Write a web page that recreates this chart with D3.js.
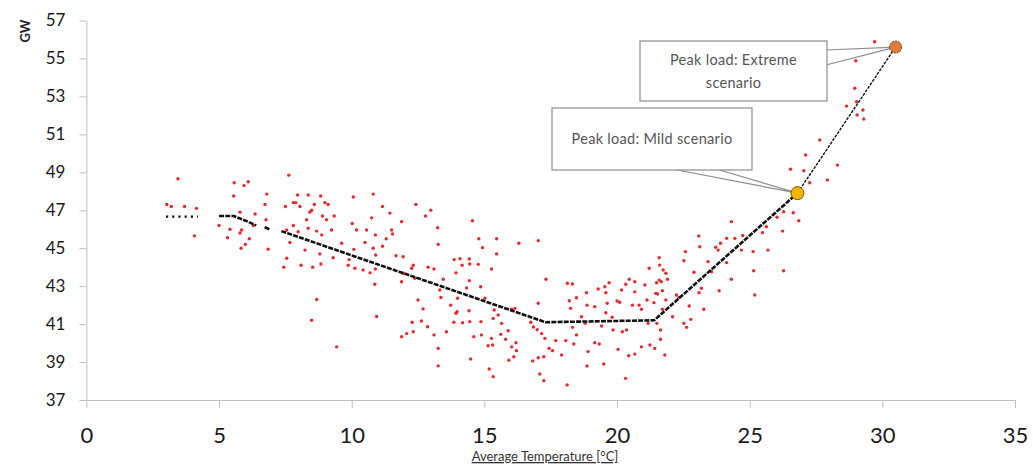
<!DOCTYPE html>
<html>
<head>
<meta charset="utf-8">
<script src="https://cdn.jsdelivr.net/npm/d3@7"></script>
<style>
  body { margin: 0; background: #fff; }
  svg { display: block; }
</style>
</head>
<body>
<div id="chart"></div>
<script>
// x tick values and y tick values
var xTicks = [0, 5, 10, 15, 20, 25, 30, 35];
var yTicks = [37, 39, 41, 43, 45, 47, 49, 51, 53, 55, 57];

// observed daily load vs average temperature [temperature, GW]
var loadPoints = [
  [3.45,48.66],[3.03,47.3],[3.2,47.2],[3.7,47.2],[4.15,47.1],[4.07,45.65],
  [5.57,48.45],[5.94,48.3],[6.1,48.5],[5.55,47.75],[6.8,47.85],[6.73,47.3],
  [5.79,46.9],[6.36,46.8],[5.0,46.2],[5.41,46.0],[5.85,45.96],[5.79,45.8],
  [6.29,46.2],[6.77,46.5],[5.32,45.55],[6.14,45.5],[5.99,45.2],[5.83,45.0],[6.85,44.95],
  [7.63,48.85],[7.96,47.8],[8.36,47.8],[8.83,47.75],[7.5,47.2],[7.8,47.4],[7.89,47.4],
  [8.05,47.2],[8.49,47.0],[8.59,47.3],[8.99,47.4],[9.11,47.3],[8.42,46.9],[8.3,46.5],
  [8.9,46.7],[9.05,46.5],[9.34,46.7],[7.8,46.2],[7.55,45.96],[7.98,45.87],[8.36,46.05],
  [8.68,45.9],[8.87,45.7],[9.24,45.96],[7.67,45.3],[8.24,44.9],[8.8,44.7],[9.3,44.5],
  [7.55,44.47],[7.44,44.0],[8.09,44.1],[8.53,44.0],[8.84,44.17],[8.68,42.3],
  [8.49,41.2],[9.43,39.8],
  [10.06,47.7],[10.81,47.85],[11.16,47.2],[12.42,47.3],[12.78,46.7],[12.98,47.0],[11.44,46.85],
  [11.88,46.4],[10.75,46.6],[10.02,46.3],[10.18,45.96],[10.56,45.96],[11.5,45.96],[11.54,45.75],
  [10.89,45.7],[10.5,45.3],[11.3,45.5],[10.81,45.0],[11.16,45.1],[13.24,46.08],[13.26,45.2],
  [11.67,44.6],[11.94,44.55],[9.9,44.4],[9.87,44.1],[10.12,43.94],[10.43,43.85],[10.69,43.7],
  [10.89,43.9],[12.32,44.1],[12.26,43.94],[12.88,44.0],[13.1,43.9],[11.88,43.23],[10.87,43.1],
  [12.5,42.27],[13.45,43.36],[13.32,42.8],[9.62,45.26],[10.08,44.94],[10.9,44.64],[12.38,43.41],
  [11.94,43.68],
  [14.55,46.45],[14.79,45.5],[15.46,45.5],[14.93,45.03],[15.46,44.7],[16.3,45.26],[17.03,45.4],
  [15.27,43.9],[13.86,44.4],[14.08,44.45],[14.43,44.43],[14.16,44.1],[14.45,44.17],[14.77,44.15],
  [13.93,43.7],[14.43,43.29],[14.86,42.97],[14.33,42.9],
  [10.94,41.4],[12.69,41.8],[12.28,41.1],[12.63,41.16],[12.86,40.86],[11.88,40.33],[12.07,40.5],
  [12.32,40.6],[13.1,40.43],[13.26,39.72],[13.57,40.6],
  [13.36,42.4],[13.99,42.36],[15.02,42.36],[13.73,42.0],[13.97,41.65],[13.93,41.57],[14.42,41.7],
  [15.37,41.74],[15.52,41.48],[16.03,41.78],[16.15,41.83],[15.33,41.3],[15.65,41.04],[13.85,41.1],
  [14.18,41.07],[14.45,41.13],[14.87,41.13],[15.9,40.65],[14.6,40.33],[14.89,40.43],[15.27,40.25],
  [15.62,40.46],[15.8,40.2],[15.14,39.86],[15.31,39.9],[16.19,40.02],[16.03,39.8],[16.21,39.6],
  [14.48,39.16],[15.92,39.1],[16.11,39.28],[16.82,39.06],[17.03,39.23],[13.26,38.8],[15.18,38.63],
  [15.33,38.23],[16.75,41.1],[16.85,40.85],[16.99,40.7],[17.03,42.1],
  [17.32,43.36],[17.16,40.5],[17.28,40.25],[17.69,40.13],[18.07,40.13],[17.57,39.6],[17.44,39.72],
  [17.91,39.37],[17.24,39.28],[17.09,38.37],[17.24,38.02],[18.12,37.79],[18.37,39.95],[18.91,39.55],
  [18.87,38.79],[19.16,40.02],[19.33,39.95],[19.5,38.9],[20.04,39.67],[20.32,38.14],[20.44,39.33],
  [20.67,39.42],[20.92,39.8],[21.24,39.9],[21.42,39.72],[21.8,39.37],[21.64,40.2],[21.64,40.69],
  [21.17,41.04],[21.5,41.04],[22.09,41.39],[22.52,41.04],[22.62,40.83],[22.78,41.25],[22.72,41.95],
  [23.27,41.78],[23.09,42.65],[23.18,42.89],[22.9,43.73],[22.52,44.34],[22.58,44.82],[23.08,45.64],
  [23.12,45.08],[23.43,44.29],[23.72,45.05],[23.85,42.76],[22.24,42.53],[22.34,42.41],
  [18.13,43.15],[18.32,43.11],[18.2,42.23],[18.25,41.83],[18.47,42.39],[18.66,41.39],[18.85,42.65],
  [18.87,42.0],[19.16,41.92],[19.29,42.85],[19.54,42.97],[19.58,42.65],[19.7,43.18],[19.63,42.1],
  [19.58,41.6],[20.0,42.22],[20.1,42.15],[20.17,42.8],[20.33,43.1],[20.46,43.36],[20.67,43.23],
  [20.67,42.7],[20.83,42.0],[20.58,42.0],[20.92,41.78],[21.05,43.06],[21.21,43.94],[21.13,42.27],
  [21.39,42.13],[21.46,42.62],[21.53,42.59],[21.49,43.18],[21.59,43.32],[21.67,43.23],[21.71,42.76],
  [21.59,44.5],[21.61,44.11],[21.74,43.85],[21.84,43.68],[21.9,43.36],[21.84,42.27],[21.71,41.78],
  [18.8,41.05],[18.32,40.83],[18.47,40.43],[19.42,40.9],[19.85,40.69],[20.2,40.6],[20.36,40.69],
  [19.82,41.36],[24.74,45.67],[23.56,43.76],
  [27.64,50.7],[27.11,49.91],[26.54,49.16],[27.04,49.08],[28.31,49.38],[27.93,48.6],[27.26,48.45],
  [26.28,46.92],[26.64,46.87],[26.03,46.63],[26.85,46.45],[26.24,45.9],[25.69,44.9],[24.31,46.4],
  [24.44,45.52],[24.13,45.52],[23.9,45.26],[23.81,44.9],[24.69,44.9],[25.13,44.82],[25.48,45.82],
  [25.63,46.13],[24.13,44.24],[24.31,43.36],[25.15,43.81],[26.28,43.81],[25.19,42.53],
  [29.71,55.88],[29.0,54.88],[28.96,53.43],[28.65,52.49],[29.27,52.28],[29.05,52.02],[29.3,51.81],
  [29.03,52.72]
];

// fitted load curve, drawn as separate pieces like the original
var fitPieces = [
  [[3.0,46.66],[4.2,46.66]],
  [[5.0,46.7],[5.55,46.7],[6.0,46.45],[6.4,46.2]],
  [[6.72,46.1],[6.9,46.0]],
  [[7.35,45.9],[17.3,41.1],[21.4,41.2],[26.8,47.9]],
  [[26.8,47.9],[30.5,55.6]]
];

var peakMild = [26.8, 47.9];
var peakExtreme = [30.5, 55.6];

var width = 1033, height = 465;
var font = "Lato, 'Open Sans', sans-serif";

var svg = d3.select("#chart").append("svg")
  .attr("width", width)
  .attr("height", height);

var x = d3.scaleLinear().domain([0, 35]).range([86.4, 1015]);
var y = d3.scaleLinear().domain([37, 57]).range([400, 20.5]);

// axes
var xAxis = svg.append("g")
  .attr("transform", "translate(0," + y(37) + ")")
  .call(d3.axisBottom(x).tickValues(xTicks).tickSize(8).tickSizeOuter(0));
xAxis.select(".domain").attr("stroke", "#bfbfbf");
xAxis.selectAll(".tick line").attr("stroke", "#bfbfbf");
xAxis.selectAll(".tick text")
  .attr("y", 43).attr("dy", null)
  .attr("fill", "#1a1a1a")
  .style("font-family", font)
  .style("font-size", "22px");

var yAxis = svg.append("g")
  .attr("transform", "translate(" + x(0) + ",0)")
  .call(d3.axisLeft(y).tickValues(yTicks).tickSize(7).tickSizeOuter(0));
yAxis.select(".domain").attr("stroke", "#bfbfbf");
yAxis.selectAll(".tick line").attr("stroke", "#bfbfbf");
yAxis.selectAll(".tick text")
  .attr("x", -21)
  .attr("fill", "#1a1a1a")
  .style("font-family", font)
  .style("font-size", "17px");

// axis titles
svg.append("text")
  .attr("transform", "translate(30,31) rotate(-90)")
  .attr("text-anchor", "middle")
  .style("font-family", font)
  .style("font-size", "13px")
  .style("font-weight", "bold")
  .attr("fill", "#222")
  .text("GW");

svg.append("text")
  .attr("x", 545).attr("y", 461)
  .attr("text-anchor", "middle")
  .style("font-family", font)
  .style("font-size", "13px")
  .style("text-decoration", "underline")
  .attr("fill", "#333")
  .text("Average Temperature [°C]");

// observed points
svg.append("g").selectAll("circle")
  .data(loadPoints)
  .enter()
  .append("circle")
  .attr("cx", function (d) { return x(d[0]); })
  .attr("cy", function (d) { return y(d[1]); })
  .attr("r", 1.7)
  .attr("fill", "#e8282e");

// fitted curve
var line = d3.line()
  .x(function (d) { return x(d[0]); })
  .y(function (d) { return y(d[1]); });

svg.append("g").selectAll("path")
  .data(fitPieces)
  .enter()
  .append("path")
  .attr("d", line)
  .attr("fill", "none")
  .attr("stroke", "#111")
  .attr("stroke-width", function (d, i) { return i === 0 ? 2.2 : (i === 4 ? 1.4 : 2.6); })
  .attr("stroke-dasharray", function (d, i) {
    if (i === 0) return "2.2,4";
    if (i === 4) return "3,1.2";
    return "5,1.2";
  });

// callouts
function callout(px, py, box, wedge, lines) {
  var tip = [x(px), y(py)];
  svg.append("path")
    .attr("d", "M" + wedge[0][0] + "," + wedge[0][1] + "L" + tip[0] + "," + tip[1] + "L" + wedge[1][0] + "," + wedge[1][1])
    .attr("fill", "#fff")
    .attr("stroke", "#8c8c8c")
    .attr("stroke-width", 1.2);
  svg.append("rect")
    .attr("x", box[0]).attr("y", box[1])
    .attr("width", box[2]).attr("height", box[3])
    .attr("fill", "#fff")
    .attr("stroke", "#8c8c8c")
    .attr("stroke-width", 1.2);
  lines.forEach(function (t, i) {
    svg.append("text")
      .attr("x", box[0] + box[2] / 2)
      .attr("y", box[1] + (lines.length === 1 ? box[3] / 2 + 5 : 24 + i * 23))
      .attr("text-anchor", "middle")
      .style("font-family", font)
      .style("font-size", "14.5px")
      .style("letter-spacing", "0.3px")
      .attr("fill", "#555")
      .text(t);
  });
}

callout(peakExtreme[0], peakExtreme[1], [640, 41, 187, 60], [[826, 50], [826, 65]],
  ["Peak load: Extreme", "scenario"]);
callout(peakMild[0], peakMild[1], [552, 108, 200, 62], [[672, 169], [716, 169]],
  ["Peak load: Mild scenario"]);

// peak markers
svg.append("circle")
  .attr("cx", x(peakMild[0])).attr("cy", y(peakMild[1]))
  .attr("r", 6.5)
  .attr("fill", "#f5b400")
  .attr("stroke", "#7a5c00")
  .attr("stroke-width", 1);

svg.append("circle")
  .attr("cx", x(peakExtreme[0])).attr("cy", y(peakExtreme[1]))
  .attr("r", 6)
  .attr("fill", "#e07b39")
  .attr("stroke", "#6b3b1a")
  .attr("stroke-width", 1)
  .attr("stroke-dasharray", "2,1");
</script>
</body>
</html>
